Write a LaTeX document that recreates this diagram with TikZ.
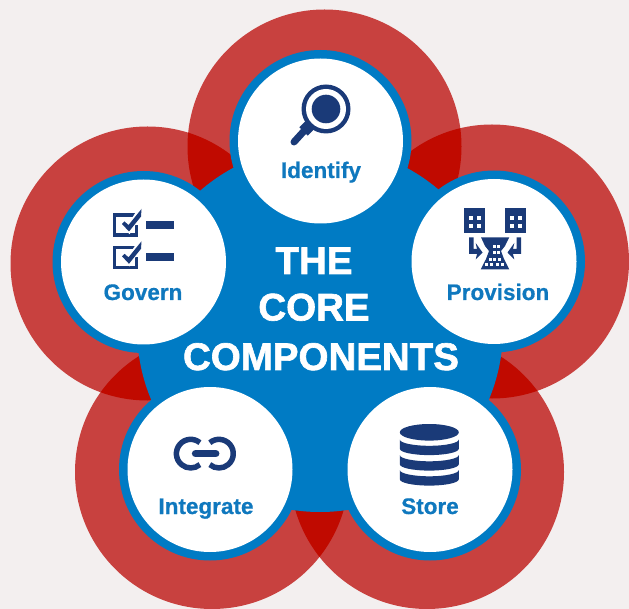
\documentclass[tikz,border=0pt]{standalone}
\usepackage{fontspec}
\setmainfont{Liberation Sans}
\newfontfamily\titleface[BoldFeatures={FakeBold=1.6}]{Liberation Sans}
\newfontfamily\labelface[BoldFeatures={FakeBold=0.6}]{Liberation Sans}
\definecolor{pagebg}{HTML}{F3EFEF}
\definecolor{redlight}{HTML}{C8413F}
\definecolor{reddark}{HTML}{C00A00}
\definecolor{coreblue}{HTML}{007BC4}
\definecolor{navy}{HTML}{1A3A78}
\definecolor{labelblue}{HTML}{0F78BE}
\tikzset{
  x=1pt,y=-1pt,
  redring/.style={fill=redlight},
  overlap/.style={fill=reddark},
  ringdisc/.style={fill=coreblue},
  whitedisc/.style={fill=white},
  label text/.style={text=labelblue,font=\labelface\fontsize{22.5}{24}\selectfont\bfseries,anchor=base,inner sep=0pt},
  title text/.style={text=white,font=\titleface\fontsize{38.5}{40}\selectfont\bfseries,anchor=base,inner sep=0pt},
  icon/.style={fill=navy},
  iconline/.style={draw=navy,line cap=butt},
  window/.style={fill=white},
}
\begin{document}
\begin{tikzpicture}
\useasboundingbox (0,0) rectangle (629,609);
\fill[pagebg] (0,0) rectangle (629,609);
% red discs
\coordinate (rI) at (324.5,146.5);
\coordinate (rP) at (492,261.5);
\coordinate (rS) at (427,472);
\coordinate (rN) at (212,472);
\coordinate (rG) at (147.5,263.5);
\foreach \c in {rI,rP,rS,rN,rG}{\fill[redring] (\c) circle[radius=137pt];}
\foreach \a/\b in {rI/rP,rP/rS,rS/rN,rN/rG,rG/rI}{
  \begin{scope}
    \clip (\a) circle[radius=137pt];
    \fill[overlap] (\b) circle[radius=137pt];
  \end{scope}
}
% central disc
\fill[ringdisc] (320,329) circle[radius=183pt];
% component discs
\coordinate (cI) at (320.5,141);
\coordinate (cP) at (494,261.5);
\coordinate (cS) at (430,469.5);
\coordinate (cN) at (210,469.5);
\coordinate (cG) at (143.5,262);
\foreach \c in {cI,cP,cS,cN,cG}{
  \fill[ringdisc] (\c) circle[radius=91pt];
  \fill[whitedisc] (\c) circle[radius=82.5pt];
}
% magnifier
\fill[icon] (326,109) circle[radius=24.5pt];
\fill[white] (326,109) circle[radius=20pt];
\fill[icon] (326,109) circle[radius=14.3pt];
\draw[navy,line width=7pt,line cap=round] (304,131) -- (294,142);
\draw[navy,line width=12pt] (309.5,125.5) -- (303.5,131.5);
% provision buildings
\foreach \dx in {0,40.7}{
  \fill[icon] (464.3+\dx,208.3) rectangle (485+\dx,233.3);
  \foreach \wx in {469,477}{\foreach \wy in {216,224.3}{
    \fill[window] (\wx+\dx,\wy) rectangle ++(4,4);
  }}
}
% provision hourglass building
\fill[icon] (481,237.3) -- (509.3,237.3) -- (505,246) -- (501,251) -- (504,259) -- (509.3,269.5) -- (480.7,269.5) -- (486,259) -- (489,251) -- (485,246) -- cycle;
\foreach \wx/\wy in {492.8/244.8,497.3/244.8,492.8/251.5,497.3/251.5,488.5/258,493/258,497.5/258,484.8/263.3,490.3/263.3,495.8/263.3,501.3/263.3}{
  \fill[window] (\wx,\wy) rectangle ++(3,3);
}
% provision arrows
\fill[icon] (469,237.5) -- (473.5,237.5) -- (473.5,249) -- (477,249) -- (475.7,243) -- (482.5,252.5) -- (475.7,259.5) -- (477,254) -- (469,254) -- cycle;
\fill[icon] (521,237.5) -- (516.5,237.5) -- (516.5,249) -- (513,249) -- (514.3,243) -- (507.5,252.5) -- (514.3,259.5) -- (513,254) -- (521,254) -- cycle;
% govern icon
\foreach \dy in {0,32.3}{
  \draw[iconline,line width=3.3pt] (137.5,215+\dy) -- (114.3,215+\dy) -- (114.3,235+\dy) -- (136.5,235+\dy) -- (136.5,225+\dy);
  \draw[white,line width=6.5pt] (124,224+\dy) -- (129,229+\dy) -- (141,210+\dy);
  \fill[icon] (122,224+\dy) -- (124.5,221.5+\dy) -- (128.5,225+\dy) -- (141.5,209+\dy) -- (141,216.5+\dy) -- (129,231.5+\dy) -- cycle;
  \fill[icon] (145.7,220.7+\dy) rectangle (174,229+\dy);
}
% chain icon
\draw[iconline,line width=5.5pt] (199.9,442.7) arc[start angle=50,end angle=310,radius=14.3pt];
\draw[iconline,line width=5.5pt] (209.8,442.7) arc[start angle=130,end angle=-130,radius=14.3pt];
\draw[navy,line width=7.3pt,line cap=round] (195.5,453.7) -- (215.8,453.7);
% database icon
\fill[icon] (429.3,432.3) ellipse[x radius=29.5pt,y radius=8.3pt];
\foreach \y in {439.5,455,470}{
  \fill[icon] (399.8,\y) arc[start angle=180,end angle=360,x radius=29.5pt,y radius=6.3pt] -- ++(0,9.3) arc[start angle=0,end angle=-180,x radius=29.5pt,y radius=6.3pt] -- cycle;
}
% labels
\node[label text] (identify) at (321,178) {Identify};
\node[label text] (provision) at (498,300) {Provision};
\node[label text] (store) at (430,514) {Store};
\node[label text] (integrate) at (206,514) {Integrate};
\node[label text] (govern) at (143,300) {Govern};
% title
\node[title text] (the) at (314,274) {THE};
\node[title text] (core) at (314,320.5) {CORE};
\node[title text] (components) at (321,370) {COMPONENTS};
\end{tikzpicture}
\end{document}
